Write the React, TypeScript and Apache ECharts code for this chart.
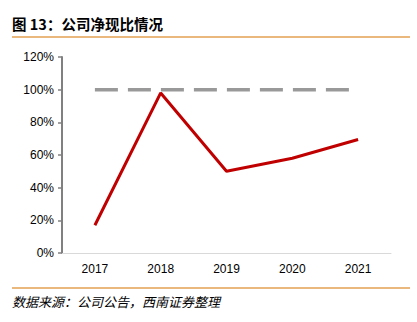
import React, { useEffect, useRef } from "react";
import * as echarts from "echarts";

const years = ["2017", "2018", "2019", "2020", "2021"];
const ratio = [17, 98, 50, 58, 69.5];
const baseline = [100, 100, 100, 100, 100];
const yTicks = [0, 20, 40, 60, 80, 100, 120];

export default function App() {
  const ref = useRef<HTMLDivElement>(null);
  useEffect(() => {
    const chart = echarts.init(ref.current!, null, { renderer: "svg" });
    chart.setOption({
      animation: false,
      backgroundColor: "#fff",
      textStyle: { fontFamily: "Liberation Sans, Arial, sans-serif" },
      graphic: [
        {
          type: "text",
          left: 12,
          top: 16,
          style: {
            text: "图 13：公司净现比情况",
            font: "bold 14.5px 'Noto Sans CJK SC', sans-serif",
            fill: "#000",
          },
        },
        {
          type: "line",
          shape: { x1: 12, y1: 37, x2: 410, y2: 37 },
          style: { stroke: "#E3A152", lineWidth: 1.5 },
        },
        {
          type: "line",
          shape: { x1: 12, y1: 288, x2: 410, y2: 288 },
          style: { stroke: "#E3A152", lineWidth: 1.5 },
        },
        {
          type: "text",
          left: 12,
          top: 295,
          style: {
            text: "数据来源：公司公告，西南证券整理",
            font: "italic 13px 'Noto Sans CJK SC', sans-serif",
            fill: "#000",
          },
        },
      ],
      grid: { left: 62, right: 26, top: 57, bottom: 69 },
      xAxis: {
        type: "category",
        data: years,
        boundaryGap: true,
        axisLine: { lineStyle: { color: "#d9d9d9", width: 1 } },
        axisTick: { show: false },
        axisLabel: { color: "#000", fontSize: 12, margin: 10 },
      },
      yAxis: {
        type: "value",
        min: yTicks[0],
        max: yTicks[yTicks.length - 1],
        interval: 20,
        axisLine: { show: true, lineStyle: { color: "#808080", width: 2 } },
        axisTick: { show: true, length: 4, lineStyle: { color: "#808080", width: 1.5 } },
        splitLine: { show: false },
        axisLabel: { color: "#000", fontSize: 12, margin: 8, formatter: "{value}%" },
      },
      series: [
        {
          type: "line",
          data: baseline,
          symbol: "none",
          lineStyle: { color: "#999999", width: 3.5, type: [23, 10] },
          z: 2,
        },
        {
          type: "line",
          data: ratio,
          symbol: "none",
          lineStyle: { color: "#C00000", width: 3 },
          z: 3,
        },
      ],
    });
    return () => chart.dispose();
  }, []);
  return <div ref={ref} style={{ width: 417, height: 322, position: "absolute", left: 0, top: 0 }} />;
}
